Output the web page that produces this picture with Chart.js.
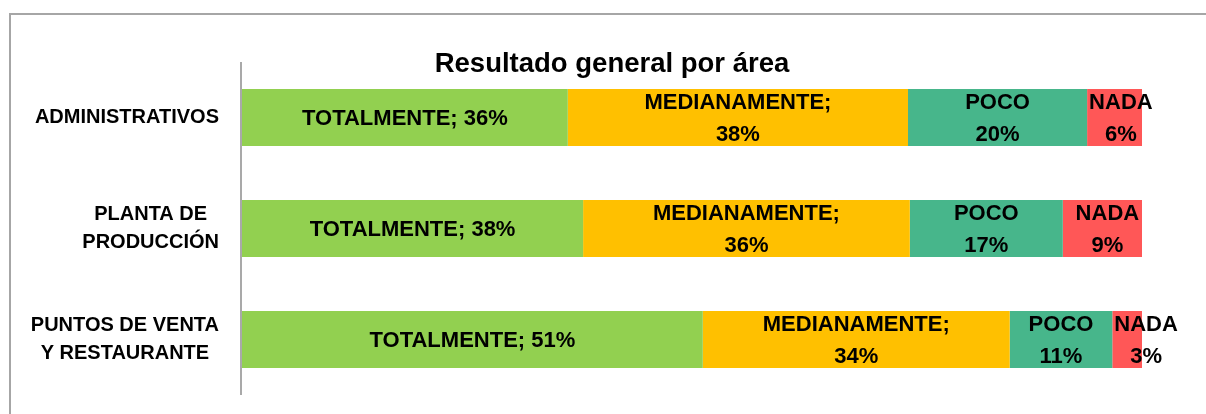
<!DOCTYPE html>
<html>
<head>
<meta charset="utf-8">
<script src="https://cdn.jsdelivr.net/npm/chart.js@4/dist/chart.umd.min.js"></script>
<style>
html,body{margin:0;padding:0;background:#fff;}
canvas{display:block;}
</style>
</head>
<body>
<canvas id="c" width="1206" height="414"></canvas>
<script>
// ---- data ----
const categories = [["ADMINISTRATIVOS"], ["PLANTA DE", "PRODUCCIÓN"], ["PUNTOS DE VENTA", "Y RESTAURANTE"]];
const seriesNames = ["TOTALMENTE", "MEDIANAMENTE", "POCO", "NADA"];
const totalmente = [36.2, 37.9, 51.2];
const medianamente = [37.8, 36.3, 34.1];
const poco = [19.9, 17.0, 11.4];
const nada = [6.1, 8.8, 3.3];
const seriesColors = ["#92D050", "#FFC000", "#47B68B", "#FF5757"];
const titleText = "Resultado general por área";

const FONT = "'Liberation Sans', Arial, sans-serif";

const overlay = {
  id: 'overlay',
  afterDatasetsDraw(chart) {
    const ctx = chart.ctx;
    const ca = chart.chartArea;
    const yScale = chart.scales.y;
    ctx.save();
    // outer frame
    ctx.strokeStyle = '#A6A6A6';
    ctx.lineWidth = 2;
    ctx.beginPath();
    ctx.moveTo(10, 414); ctx.lineTo(10, 14); ctx.lineTo(1206, 14);
    ctx.stroke();
    // category axis line
    ctx.strokeStyle = '#8C8C8C';
    ctx.lineWidth = 1.5;
    ctx.beginPath();
    ctx.moveTo(ca.left - 1, ca.top); ctx.lineTo(ca.left - 1, ca.bottom);
    ctx.stroke();
    // title
    ctx.fillStyle = '#000';
    ctx.font = "bold 27.5px " + FONT;
    ctx.textAlign = 'center';
    ctx.textBaseline = 'alphabetic';
    ctx.fillText(titleText, 612, 72);
    // category labels
    ctx.font = "bold 20px " + FONT;
    ctx.textBaseline = 'middle';
    chart.data.labels.forEach((lab, i) => {
      const lines = Array.isArray(lab) ? lab : [lab];
      const maxW = Math.max(...lines.map(l => ctx.measureText(l).width));
      const cx = 219 - maxW / 2;
      const cy = yScale.getPixelForValue(i);
      const lh = 28;
      lines.forEach((l, k) => {
        ctx.fillText(l, cx, cy + (k - (lines.length - 1) / 2) * lh);
      });
    });
    // data labels
    ctx.font = "bold 22px " + FONT;
    chart.data.datasets.forEach((ds, di) => {
      const meta = chart.getDatasetMeta(di);
      meta.data.forEach((bar, i) => {
        const v = ds.data[i];
        const pct = Math.round(v) + '%';
        let lines;
        if (di === 0) lines = [ds.label + '; ' + pct];
        else if (di === 1) lines = [ds.label + ';', pct];
        else lines = [ds.label, pct];
        const start = Math.min(bar.base, bar.x);
        const end = Math.max(bar.base, bar.x);
        const segW = end - start;
        const w = Math.max(...lines.map(l => ctx.measureText(l).width));
        let cx = (start + end) / 2;
        if (w > segW - 20) cx = Math.max(cx + 5, start + w / 2 + 2);
        const cy = bar.y;
        const lh = 32;
        lines.forEach((l, k) => {
          ctx.fillText(l, cx, cy + (k - (lines.length - 1) / 2) * lh + 1);
        });
      });
    });
    ctx.restore();
  }
};

const seriesValues = [totalmente, medianamente, poco, nada];

new Chart(document.getElementById('c'), {
  type: 'bar',
  data: {
    labels: categories,
    datasets: seriesNames.map((n, i) => ({
      label: n,
      data: seriesValues[i],
      backgroundColor: seriesColors[i],
      borderWidth: 0,
      barPercentage: 0.514,
      categoryPercentage: 1.0
    }))
  },
  options: {
    indexAxis: 'y',
    responsive: false,
    animation: false,
    devicePixelRatio: 1,
    layout: { padding: { left: 242, right: 64, top: 62, bottom: 19 } },
    scales: {
      x: { stacked: true, min: 0, max: 100, display: false },
      y: { stacked: true, display: false }
    },
    plugins: {
      legend: { display: false },
      tooltip: { enabled: false },
      title: { display: false }
    }
  },
  plugins: [overlay]
});
</script>
</body>
</html>
